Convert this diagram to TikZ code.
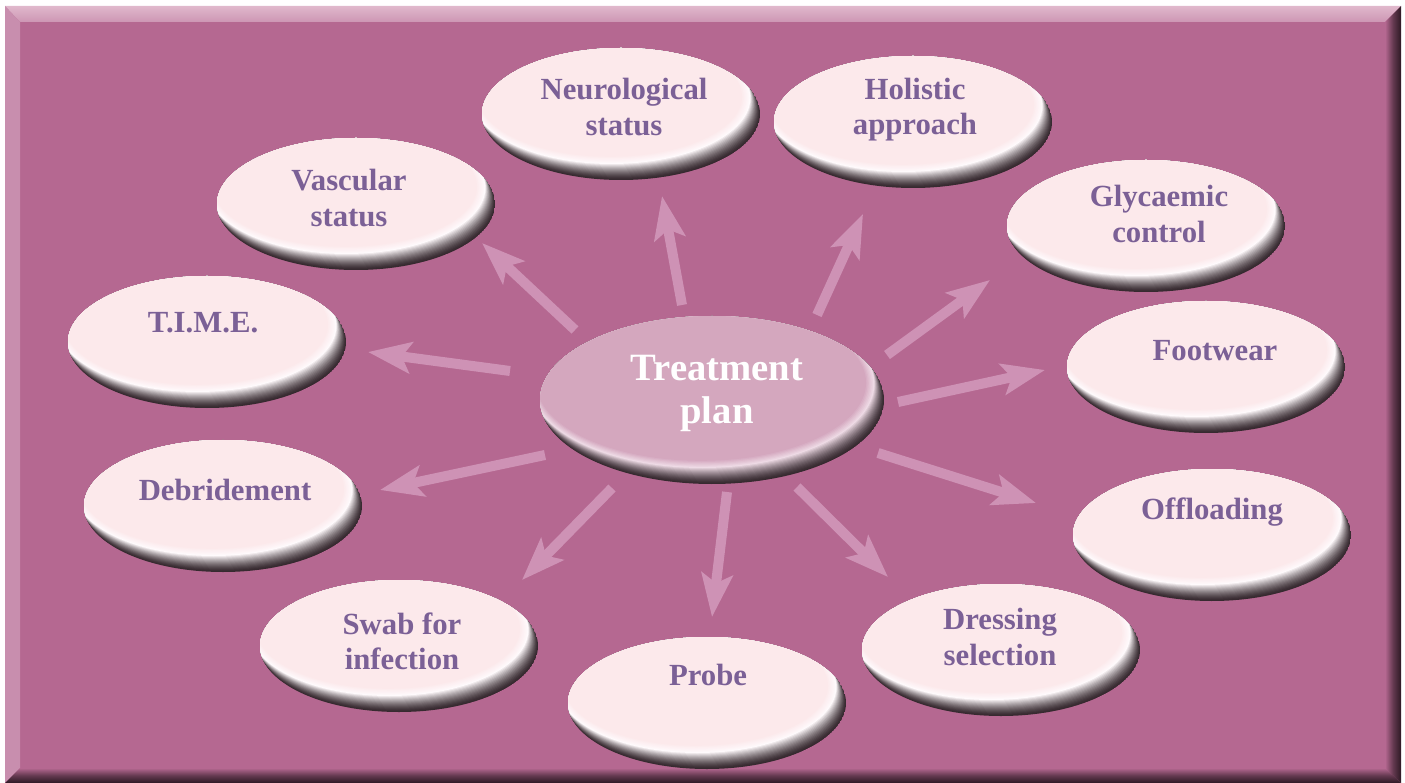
\documentclass[tikz,border=0pt]{standalone}
\usepackage{fontspec}
\setmainfont{Liberation Serif}
\usetikzlibrary{calc,arrows.meta}
\definecolor{bgpink}{RGB}{181,104,145}
\definecolor{bevtop}{RGB}{224,184,204}
\definecolor{bevtoplow}{RGB}{205,150,180}
\definecolor{bevleft}{RGB}{200,142,174}
\definecolor{framedark}{RGB}{45,25,36}
\definecolor{arrowpink}{RGB}{206,146,181}
\definecolor{rimdark}{RGB}{55,42,48}
\definecolor{bubblepale}{RGB}{252,233,235}
\definecolor{bubblewhite}{RGB}{255,250,252}
\definecolor{planfill}{RGB}{212,167,190}
\definecolor{planwhite}{RGB}{238,218,229}
\definecolor{labelpurple}{RGB}{123,96,150}

% x, y, rx, ry (px), fill, highlight
\newcommand{\bubble}[6]{%
  \begin{scope}
    \pgfmathsetmacro{\bubrx}{#3*0.02}
    \pgfmathsetmacro{\bubry}{#4*0.02}
    \clip (#1,#2) ellipse [x radius=\bubrx cm, y radius=\bubry cm];
    \fill[rimdark] (#1,#2) ellipse [x radius=\bubrx cm, y radius=\bubry cm];
    \foreach \i in {1,...,16}{
      \pgfmathsetmacro{\bubpc}{100*(\i/16)^1.4}
      \fill[#6!\bubpc!rimdark] ($(#1,#2)+(-0.6*\i,-1.0*\i)$) ellipse [x radius=\bubrx cm, y radius=\bubry cm];
    }
    \foreach \j in {1,...,6}{
      \pgfmathsetmacro{\bubpc}{\j*100/6}
      \pgfmathsetmacro{\bubrxx}{(#3-1.2*\j)*0.02}
      \pgfmathsetmacro{\bubryy}{(#4-1.0*\j)*0.02}
      \fill[#5!\bubpc!#6] ($(#1,#2)+(-9.6-0.2*\j,-16-0.2*\j)$) ellipse [x radius=\bubrxx cm, y radius=\bubryy cm];
    }
  \end{scope}
}

\begin{document}
\begin{tikzpicture}[x=0.02cm,y=-0.02cm,
    lbl/.style={text=labelpurple,align=center,font=\fontsize{17.5}{20}\selectfont\bfseries},
    planlbl/.style={text=white,align=center,font=\fontsize{22}{24.5}\selectfont\bfseries},
    arr/.style={draw=arrowpink,line width=0.2cm,-{Stealth[length=0.86cm,width=0.62cm,inset=0.18cm]}}]
	\useasboundingbox (0,0) rectangle (1405,783);
	\fill[bgpink] (5,6) rectangle (1401,783);
	\shade[top color=bevtop,bottom color=bevtoplow] (5,6) -- (1401,6) -- (1385,22) -- (20,22) -- cycle;
	\fill[bevleft] (5,6) -- (20,22) -- (20,768) -- (5,783) -- cycle;
	\shade[left color=bgpink,right color=framedark,middle color=bgpink!40!framedark] (1401,6) -- (1385,22) -- (1385,768) -- (1401,783) -- cycle;
	\shade[top color=bgpink,bottom color=framedark,middle color=bgpink!40!framedark] (5,783) -- (20,768) -- (1385,768) -- (1401,783) -- cycle;
	\coordinate (neuro-s) at (682,305);
	\coordinate (neuro-e) at (662,196);
	\coordinate (holist-s) at (817,315);
	\coordinate (holist-e) at (863,214);
	\coordinate (vasc-s) at (575,330);
	\coordinate (vasc-e) at (482,243);
	\coordinate (glyc-s) at (887,355);
	\coordinate (glyc-e) at (990,280);
	\coordinate (time-s) at (510,371);
	\coordinate (time-e) at (368,352);
	\coordinate (foot-s) at (898,402);
	\coordinate (foot-e) at (1045,370);
	\coordinate (debr-s) at (545,455);
	\coordinate (debr-e) at (380,490);
	\coordinate (offl-s) at (878,453);
	\coordinate (offl-e) at (1036,503);
	\coordinate (swab-s) at (612,488);
	\coordinate (swab-e) at (522,580);
	\coordinate (probe-s) at (727,492);
	\coordinate (probe-e) at (712,617);
	\coordinate (dress-s) at (797,487);
	\coordinate (dress-e) at (888,577);
	\foreach \a in {neuro,holist,vasc,glyc,time,foot,debr,offl,swab,probe,dress}
		\draw[arr] (\a-s) -- (\a-e);
	\bubble{621}{114}{139}{66}{bubblepale}{bubblewhite}
	\bubble{913}{122}{139}{66}{bubblepale}{bubblewhite}
	\bubble{356}{204}{139}{66}{bubblepale}{bubblewhite}
	\bubble{1146}{226}{139}{66}{bubblepale}{bubblewhite}
	\bubble{207}{342}{139}{66}{bubblepale}{bubblewhite}
	\bubble{1206}{367}{139}{66}{bubblepale}{bubblewhite}
	\bubble{223}{506}{139}{66}{bubblepale}{bubblewhite}
	\bubble{1212}{535}{139}{66}{bubblepale}{bubblewhite}
	\bubble{399}{646}{139}{66}{bubblepale}{bubblewhite}
	\bubble{1001}{650}{139}{66}{bubblepale}{bubblewhite}
	\bubble{707}{703}{139}{66}{bubblepale}{bubblewhite}
	\bubble{712}{400}{172}{84}{planfill}{planwhite}
	\node[lbl] (neuro) at (624,107) {Neurological\\status};
	\node[lbl] (holist) at (915,110) {Holistic\\approach};
	\node[lbl] (vasc) at (349,198) {Vascular\\status};
	\node[lbl] (glyc) at (1159,214) {Glycaemic\\control};
	\node[lbl] (time) at (203,323) {T.I.M.E.};
	\node[lbl] (foot) at (1215,351) {Footwear};
	\node[lbl] (debr) at (225,490) {Debridement};
	\node[lbl] (offl) at (1212,512) {Offloading};
	\node[lbl] (swab) at (402,641) {Swab for\\infection};
	\node[lbl] (dress) at (1000,637) {Dressing\\selection};
	\node[lbl] (probe) at (708,675) {Probe};
	\node[planlbl] (plan) at (717,393) {Treatment\\plan};
\end{tikzpicture}
\end{document}
